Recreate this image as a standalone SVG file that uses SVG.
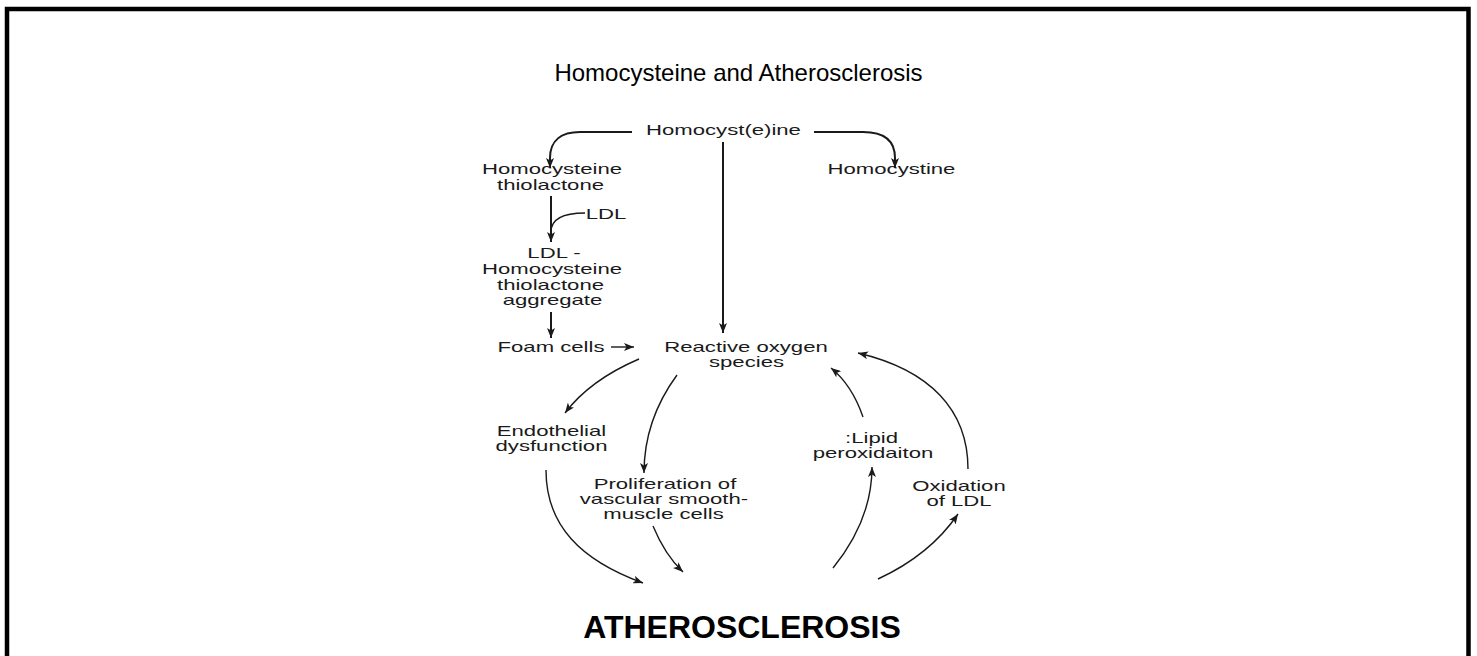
<svg xmlns="http://www.w3.org/2000/svg" width="1477" height="656" viewBox="0 0 1477 656">
<style>
.lbl{font-family:"Liberation Sans",Arial,sans-serif;font-size:15px;fill:#1a1a1a;text-anchor:middle}
.ttl{font-family:"Liberation Sans",Arial,sans-serif;font-size:24px;fill:#000;text-anchor:middle}
.big{font-family:"Liberation Sans",Arial,sans-serif;font-size:32px;font-weight:bold;fill:#000;text-anchor:middle}
.c{fill:none;stroke:#1a1a1a;stroke-width:1.4}
.s{fill:none;stroke:#1a1a1a;stroke-width:2}
</style>
<defs>
<marker id="ah" viewBox="0 0 10 8" refX="10" refY="4" markerWidth="10" markerHeight="8" markerUnits="userSpaceOnUse" orient="auto">
<path d="M0,0 L10,4 L0,8 L2.5,4 z" fill="#1a1a1a"/>
</marker>
</defs>
<rect x="0" y="0" width="1477" height="656" fill="#fff"/>
<rect x="7" y="9" width="1461.5" height="700" fill="none" stroke="#000" stroke-width="4.5"/>
<text class="ttl" x="738.5" y="81">Homocysteine and Atherosclerosis</text>
<g id="connectors">
<path class="s" d="M632,132 H580 C562,132 550,140 550,158 V168" marker-end="url(#ah)"/>
<path class="s" d="M814,132 H863 C883,132 895,140 895,158 V168" marker-end="url(#ah)"/>
<path class="s" d="M723,142 V333" marker-end="url(#ah)"/>
<path class="s" d="M551,196 V242" marker-end="url(#ah)"/>
<path class="c" d="M585,213 C565,213 551,218 551,232"/>
<path class="s" d="M551,312 V338" marker-end="url(#ah)"/>
<path class="c" d="M611,347 H634" marker-end="url(#ah)"/>
<path class="c" d="M639,359 Q590,380 565,413" marker-end="url(#ah)"/>
<path class="c" d="M677,375 Q644,420 644,473" marker-end="url(#ah)"/>
<path class="c" d="M863,417 Q852,385 831,368" marker-end="url(#ah)"/>
<path class="c" d="M968,469 C968,410 930,370 858,353" marker-end="url(#ah)"/>
<path class="c" d="M546,470 C546,525 580,560 643,583" marker-end="url(#ah)"/>
<path class="c" d="M653,526 Q665,555 683,572" marker-end="url(#ah)"/>
<path class="c" d="M833,568 Q872,520 872,467" marker-end="url(#ah)"/>
<path class="c" d="M878,579 Q930,555 958,514" marker-end="url(#ah)"/>
</g>
<g id="homocysteine"><text class="lbl" transform="translate(723.5 135) scale(1.475 1)">Homocyst(e)ine</text></g>
<g id="thiolactone"><text class="lbl" transform="translate(552 174) scale(1.475 1)">Homocysteine</text><text class="lbl" transform="translate(550.5 190) scale(1.475 1)">thiolactone</text></g>
<g id="homocystine"><text class="lbl" transform="translate(891.5 174) scale(1.475 1)">Homocystine</text></g>
<g id="ldl"><text class="lbl" transform="translate(606 219) scale(1.475 1)">LDL</text></g>
<g id="aggregate"><text class="lbl" transform="translate(554 258) scale(1.475 1)">LDL -</text><text class="lbl" transform="translate(552 274) scale(1.475 1)">Homocysteine</text><text class="lbl" transform="translate(550.5 290) scale(1.475 1)">thiolactone</text><text class="lbl" transform="translate(552.5 305) scale(1.475 1)">aggregate</text></g>
<g id="foam"><text class="lbl" transform="translate(551 352) scale(1.475 1)">Foam cells</text></g>
<g id="ros"><text class="lbl" transform="translate(746 352) scale(1.475 1)">Reactive oxygen</text><text class="lbl" transform="translate(746.5 367) scale(1.475 1)">species</text></g>
<g id="endothelial"><text class="lbl" transform="translate(551.5 436) scale(1.475 1)">Endothelial</text><text class="lbl" transform="translate(551.5 451) scale(1.475 1)">dysfunction</text></g>
<g id="lipid"><text class="lbl" transform="translate(871.5 443) scale(1.475 1)">:Lipid</text><text class="lbl" transform="translate(873 458) scale(1.475 1)">peroxidaiton</text></g>
<g id="proliferation"><text class="lbl" transform="translate(665 489) scale(1.475 1)">Proliferation of</text><text class="lbl" transform="translate(664 504) scale(1.475 1)">vascular smooth-</text><text class="lbl" transform="translate(663.5 519) scale(1.475 1)">muscle cells</text></g>
<g id="oxidation"><text class="lbl" transform="translate(959 491) scale(1.475 1)">Oxidation</text><text class="lbl" transform="translate(959 506) scale(1.475 1)">of LDL</text></g>
<g id="atherosclerosis"><text class="big" x="742" y="638">ATHEROSCLEROSIS</text></g>
</svg>
